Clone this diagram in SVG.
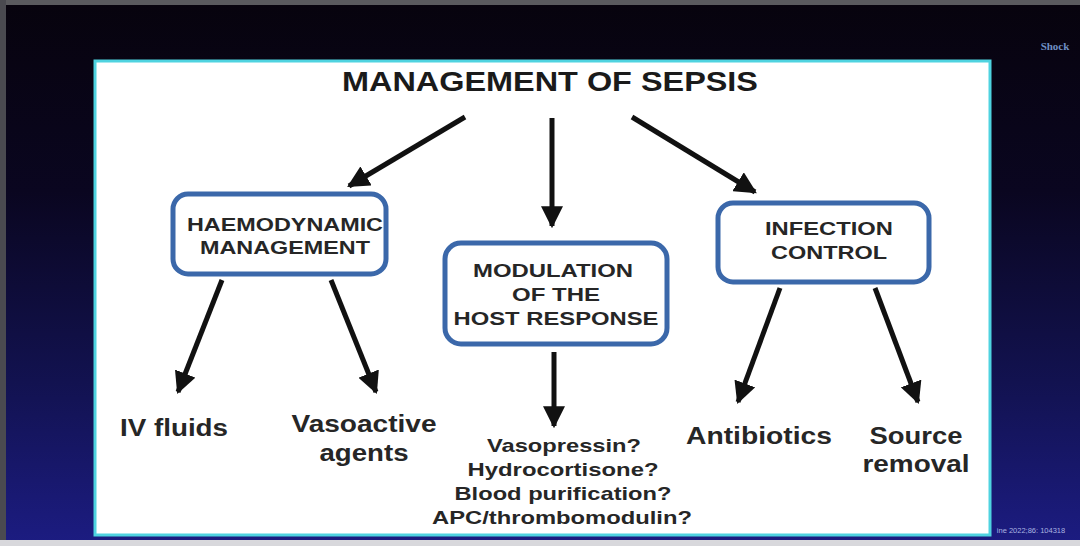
<svg xmlns="http://www.w3.org/2000/svg" width="1080" height="546" viewBox="0 0 1080 546">
<defs>
<linearGradient id="bg" x1="0" y1="0" x2="0" y2="1">
<stop offset="0" stop-color="#07030d"/>
<stop offset="0.35" stop-color="#0a0620"/>
<stop offset="0.7" stop-color="#121250"/>
<stop offset="1" stop-color="#1c1c82"/>
</linearGradient>
<marker id="ah" viewBox="0 0 10 10" refX="9" refY="5" markerWidth="4.4" markerHeight="4.4" orient="auto" markerUnits="strokeWidth">
<path d="M0,0 L10,5 L0,10 Z" fill="#111"/>
</marker>
<style>
.box{fill:#fff;stroke:#3b68aa;stroke-width:5}
.bt{font-family:"Liberation Sans",Arial,sans-serif;font-weight:bold;font-size:18px;fill:#262626;text-anchor:middle}
.lt{font-family:"Liberation Sans",Arial,sans-serif;font-weight:bold;font-size:23px;fill:#262626;text-anchor:middle}
.st{font-family:"Liberation Sans",Arial,sans-serif;font-weight:bold;font-size:19px;fill:#262626;text-anchor:middle}
.ar{stroke:#111;stroke-width:5;fill:none;marker-end:url(#ah)}
</style>
</defs>
<rect width="1080" height="546" fill="url(#bg)"/>
<rect x="0" y="0" width="1080" height="5" fill="#5a5a5e"/>
<rect x="0" y="0" width="6" height="546" fill="#4a4a50"/>
<rect x="0" y="540" width="1080" height="6" fill="#d8d8dc"/>
<rect x="95" y="61" width="895" height="474" fill="#fff" stroke="#4fd3e0" stroke-width="3"/>
<text x="1055" y="50" font-family="Liberation Serif,serif" font-size="11" font-weight="bold" fill="#6f8fc4" text-anchor="middle">Shock</text>
<text x="1031" y="533" font-family="Liberation Sans,sans-serif" font-size="7.5" fill="#aab4e0" text-anchor="middle">ine 2022;86: 104318</text>
<g id="title"><text x="550" y="91" font-family="Liberation Sans,Arial,sans-serif" font-weight="bold" font-size="28px" fill="#1a1a1a" text-anchor="middle" textLength="416" lengthAdjust="spacingAndGlyphs">MANAGEMENT OF SEPSIS</text></g>
<g id="connectors">
<line class="ar" x1="465" y1="117" x2="349" y2="186"/>
<line class="ar" x1="552" y1="118" x2="552" y2="226"/>
<line class="ar" x1="632" y1="117" x2="755" y2="192"/>
<line class="ar" x1="222" y1="280" x2="178" y2="392"/>
<line class="ar" x1="331" y1="280" x2="376" y2="392"/>
<line class="ar" x1="554" y1="352" x2="554" y2="426"/>
<line class="ar" x1="780" y1="288" x2="738" y2="402"/>
<line class="ar" x1="875" y1="288" x2="918" y2="402"/>
</g>
<g id="haemo">
<rect class="box" x="173" y="194" width="213" height="80" rx="15"/>
<text class="bt" x="285" y="231" textLength="196" lengthAdjust="spacingAndGlyphs">HAEMODYNAMIC</text>
<text class="bt" x="285" y="254" textLength="170" lengthAdjust="spacingAndGlyphs">MANAGEMENT</text>
</g>
<g id="modulation">
<rect class="box" x="445" y="243" width="222" height="101" rx="16"/>
<text class="bt" x="553" y="277" textLength="160" lengthAdjust="spacingAndGlyphs">MODULATION</text>
<text class="bt" x="556" y="301" textLength="88" lengthAdjust="spacingAndGlyphs">OF THE</text>
<text class="bt" x="556" y="325" textLength="205" lengthAdjust="spacingAndGlyphs">HOST RESPONSE</text>
</g>
<g id="infection">
<rect class="box" x="718" y="203" width="211" height="79" rx="15"/>
<text class="bt" x="829" y="235" textLength="128" lengthAdjust="spacingAndGlyphs">INFECTION</text>
<text class="bt" x="829" y="259" textLength="116" lengthAdjust="spacingAndGlyphs">CONTROL</text>
</g>
<g id="ivfluids"><text class="lt" x="174" y="436" textLength="108" lengthAdjust="spacingAndGlyphs">IV fluids</text></g>
<g id="vasoactive"><text class="lt" x="364" y="432" textLength="145" lengthAdjust="spacingAndGlyphs">Vasoactive</text><text class="lt" x="364" y="461" textLength="89" lengthAdjust="spacingAndGlyphs">agents</text></g>
<g id="hostlist">
<text class="st" x="564" y="452" textLength="154" lengthAdjust="spacingAndGlyphs">Vasopressin?</text>
<text class="st" x="563" y="476" textLength="191" lengthAdjust="spacingAndGlyphs">Hydrocortisone?</text>
<text class="st" x="563" y="500" textLength="217" lengthAdjust="spacingAndGlyphs">Blood purification?</text>
<text class="st" x="562" y="524" textLength="260" lengthAdjust="spacingAndGlyphs">APC/thrombomodulin?</text>
</g>
<g id="antibiotics"><text class="lt" x="759" y="444" textLength="146" lengthAdjust="spacingAndGlyphs">Antibiotics</text></g>
<g id="source"><text class="lt" x="916" y="444" textLength="93" lengthAdjust="spacingAndGlyphs">Source</text><text class="lt" x="916" y="472" textLength="107" lengthAdjust="spacingAndGlyphs">removal</text></g>
</svg>
